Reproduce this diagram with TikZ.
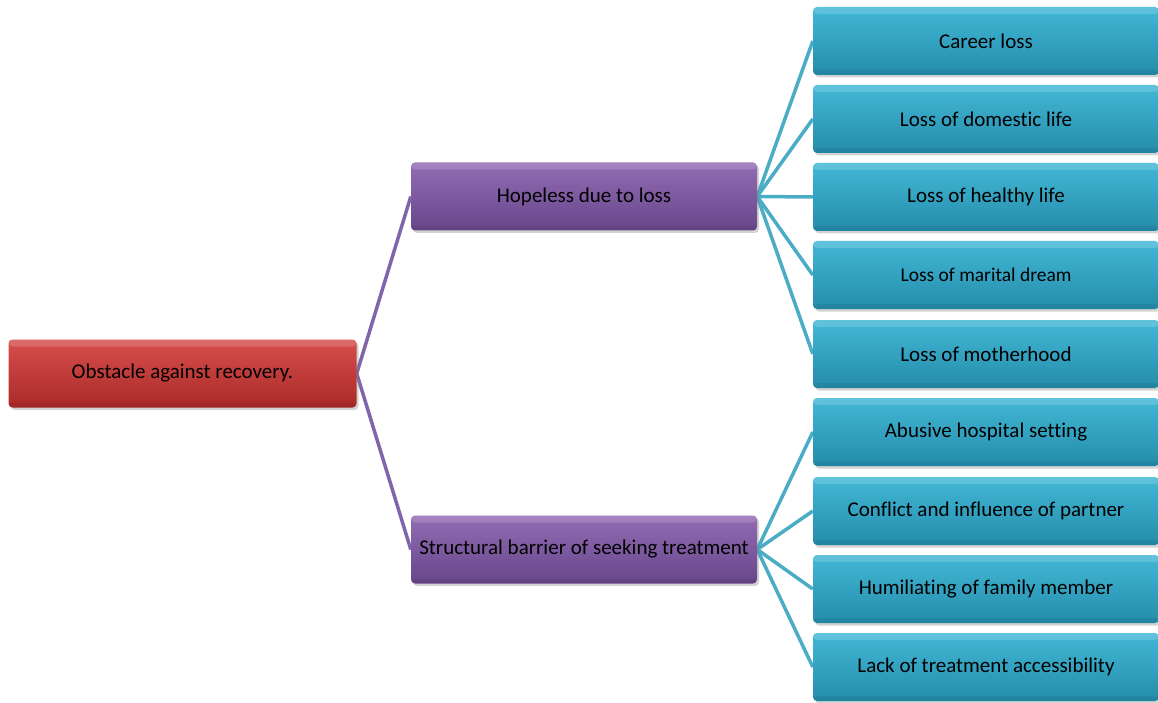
\documentclass[tikz,border=0pt]{standalone}
\usepackage{fontspec}
\setmainfont{Carlito}[Ligatures={NoCommon}]
\usetikzlibrary{shadows,backgrounds}
\definecolor{redtop}{RGB}{214,78,76}
\definecolor{redbot}{RGB}{170,42,40}
\definecolor{purtop}{RGB}{146,108,180}
\definecolor{purbot}{RGB}{104,70,138}
\definecolor{blutop}{RGB}{66,184,214}
\definecolor{blubot}{RGB}{36,140,170}
\definecolor{purline}{RGB}{128,100,172}
\definecolor{bluline}{RGB}{75,172,198}
\tikzset{
  box/.style={rounded corners=4pt, minimum width=346pt, minimum height=68pt,
    inner sep=0pt, text=black, font=\fontsize{21}{25}\selectfont,
    drop shadow={opacity=0.35, shadow xshift=2pt, shadow yshift=-2.5pt},
    path picture={
      \fill[white,opacity=0.16] (path picture bounding box.north west)
        rectangle ([yshift=-7pt]path picture bounding box.north east);
      \fill[black,opacity=0.06] (path picture bounding box.south west)
        rectangle ([yshift=5pt]path picture bounding box.south east);
    }},
  rootbox/.style={box, minimum width=348pt, top color=redtop, bottom color=redbot},
  midbox/.style={box, top color=purtop, bottom color=purbot},
  leafbox/.style={box, top color=blutop, bottom color=blubot},
  purlink/.style={draw=purline, line width=3.5pt},
  blulink/.style={draw=bluline, line width=3.5pt},
}
\begin{document}
\begin{tikzpicture}[x=1pt,y=-1pt]
\useasboundingbox (0,0) rectangle (1158,703);
\node[rootbox] (root) at (182.5,373.5) {Obstacle against recovery.};
\node[midbox] (hope) at (584,196.5) {Hopeless due to loss};
\node[midbox] (struct) at (584,549.5) {Structural barrier of seeking treatment};
\node[leafbox] (l1) at (986,41) {Career loss};
\node[leafbox] (l2) at (986,119) {Loss of domestic life};
\node[leafbox] (l3) at (986,197) {Loss of healthy life};
\node[leafbox, font=\fontsize{19.5}{23}\selectfont] (l4) at (986,275) {Loss of marital dream};
\node[leafbox] (l5) at (986,354) {Loss of motherhood};
\node[leafbox] (l6) at (986,432) {Abusive hospital setting};
\node[leafbox] (l7) at (986,511) {Conflict and influence of partner};
\node[leafbox] (l8) at (986,589) {Humiliating of family member};
\node[leafbox] (l9) at (986,667) {Lack of treatment accessibility};
\begin{scope}[on background layer]
  \draw[purlink] (root.east) -- (hope.west);
  \draw[purlink] (root.east) -- (struct.west);
  \foreach \n in {l1,l2,l3,l4,l5}
    \draw[blulink] (hope.east) -- (\n.west);
  \foreach \n in {l6,l7,l8,l9}
    \draw[blulink] (struct.east) -- (\n.west);
\end{scope}
\end{tikzpicture}
\end{document}
